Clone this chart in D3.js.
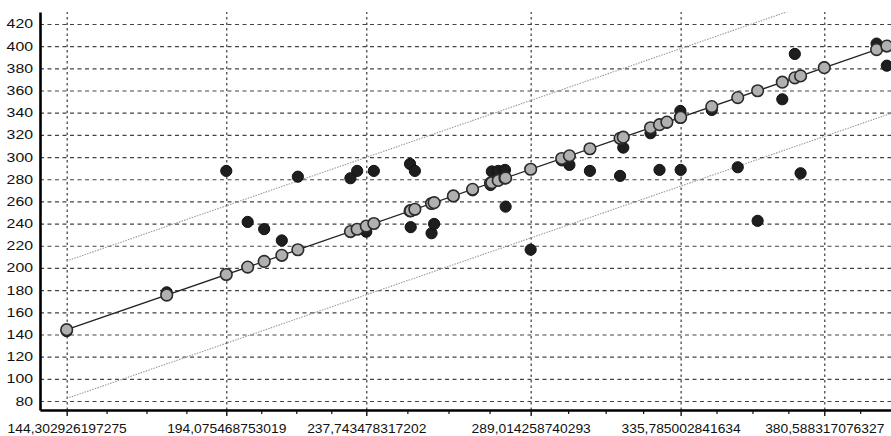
<!DOCTYPE html>
<html>
<head>
<meta charset="utf-8">
<script src="https://cdn.jsdelivr.net/npm/d3@7"></script>
<style>
  body{margin:0;background:#fff;}
  svg{display:block;}
  text{font-family:"Liberation Sans",Arial,sans-serif;fill:#111;}
</style>
</head>
<body>
<div id="chart"></div>
<script>
// predicted value (x) and observed value for each case
const predicted=[144.3,175.5,194.08,200.75,205.9,211.4,216.4,232.8,234.9,237.74,240.1,
  251.4,251.6,252.9,258.1,258.9,264.9,270.9,276.5,276.9,278.9,281.0,281.2,289.01,
  298.7,301.1,307.5,316.9,317.9,326.4,329.2,331.5,335.7,335.8,345.5,353.6,359.8,
  367.5,371.4,373.2,380.59,396.9,400.1];
const observed=[143,178,287.5,241.5,235,224.8,282.3,280.9,287.5,232.7,287.5,
  293.8,236.8,287.5,231.3,239.7,265,270,274.8,287,287.5,288.4,255.3,216.5,
  297,292.9,287.5,283,308.5,321.5,288.4,331,341.6,288.4,342.5,290.8,242.5,
  352.1,393,285.4,381,402.3,382.4];

const xTickLabels=["144,302926197275","194,075468753019","237,743478317202",
  "289,014258740293","335,785002841634","380,588317076327"];
const yTickValues=[80,100,120,140,160,180,200,220,240,260,280,300,320,340,360,380,400,420];
const bandOffset=62;   // half width of the prediction band

const width=891, height=436;
const margin={top:12,right:0,bottom:26,left:40};
const innerW=width-margin.left-margin.right;
const innerH=height-margin.top-margin.bottom;

const xTicks=xTickLabels.map(s=>+s.replace(",","."));

const xScale=d3.scaleLinear().domain([135.98,401.4]).range([0,innerW]);
const yScale=d3.scaleLinear().domain([71.9,430.8]).range([innerH,0]);

const svg=d3.select("#chart").append("svg")
  .attr("width",width).attr("height",height);

svg.append("defs").append("clipPath").attr("id","plotClip")
  .append("rect").attr("width",innerW).attr("height",innerH);

const g=svg.append("g")
  .attr("transform","translate("+margin.left+","+margin.top+")");

// grid lines
g.append("g").attr("class","hgrid")
  .call(d3.axisLeft(yScale).tickValues(yTickValues).tickSize(-innerW).tickFormat(""))
  .call(s=>s.select(".domain").remove())
  .selectAll("line")
  .attr("stroke","#444").attr("stroke-width",1.2).attr("stroke-dasharray","4,3.5");

g.append("g").attr("class","vgrid")
  .call(d3.axisBottom(xScale).tickValues(xTicks).tickSize(-innerH).tickFormat(""))
  .attr("transform","translate(0,"+innerH+")")
  .call(s=>s.select(".domain").remove())
  .selectAll("line")
  .attr("stroke","#3c3c3c").attr("stroke-width",1.2).attr("stroke-dasharray","2.5,3");

const pts=predicted.map((p,i)=>({pred:p,obs:observed[i]}));
const xMin=d3.min(predicted), xEnd=xScale.domain()[1];

const plot=g.append("g").attr("clip-path","url(#plotClip)");

// prediction bands
[bandOffset,-bandOffset].forEach(off=>{
  plot.append("path")
    .datum([xMin,xEnd])
    .attr("fill","none")
    .attr("stroke","#9a9a9a")
    .attr("stroke-width",1.1)
    .attr("stroke-dasharray","1.5,1.2")
    .attr("d",d3.line().x(d=>xScale(d)).y(d=>yScale(d+off)));
});

// observed points
plot.append("g").selectAll("circle")
  .data(pts).enter().append("circle")
  .attr("cx",d=>xScale(d.pred))
  .attr("cy",d=>yScale(d.obs))
  .attr("r",5.6)
  .attr("fill","#1e1e1e")
  .attr("stroke","#111")
  .attr("stroke-width",1);

// fitted line
plot.append("path")
  .datum([xMin,xEnd])
  .attr("fill","none")
  .attr("stroke","#222")
  .attr("stroke-width",1.3)
  .attr("d",d3.line().x(d=>xScale(d)).y(d=>yScale(d)));

// fitted points
plot.append("g").selectAll("circle")
  .data(pts).enter().append("circle")
  .attr("cx",d=>xScale(d.pred))
  .attr("cy",d=>yScale(d.pred))
  .attr("r",5.8)
  .attr("fill","#b0b0b0")
  .attr("stroke","#2a2a2a")
  .attr("stroke-width",1.6);

// minor ticks on the x axis: quarters between labelled ticks
let minor=[];
for(let i=0;i<xTicks.length;i++){
  const next=i<xTicks.length-1?xTicks[i+1]:xTicks[i]+(xTicks[i]-xTicks[i-1]);
  const step=(next-xTicks[i])/4;
  for(let k=1;k<4;k++){
    const v=xTicks[i]+k*step;
    if(v<xEnd) minor.push(v);
  }
}

g.append("g")
  .attr("transform","translate(0,"+innerH+")")
  .call(d3.axisBottom(xScale).tickValues(minor).tickSize(4).tickFormat(""))
  .call(s=>s.select(".domain").remove())
  .selectAll("line").attr("stroke","#111").attr("stroke-width",1.2);

// x axis
const xAxis=g.append("g")
  .attr("transform","translate(0,"+innerH+")")
  .call(d3.axisBottom(xScale).tickValues(xTicks).tickSize(6).tickSizeOuter(0)
    .tickFormat((d,i)=>xTickLabels[i]));
xAxis.select(".domain").attr("stroke","#000").attr("stroke-width",2.6);
xAxis.selectAll("line").attr("stroke","#111").attr("stroke-width",1.4);
xAxis.selectAll("text")
  .attr("fill","#111").attr("font-size","13.5px").attr("dy","0.85em").attr("y",12)
  .attr("textLength",(d,i)=>7.45*xTickLabels[i].length)
  .attr("lengthAdjust","spacingAndGlyphs");

// y axis
const yAxis=g.append("g")
  .call(d3.axisLeft(yScale).tickValues(yTickValues).tickSize(0).tickPadding(7));
yAxis.select(".domain").attr("stroke","#000").attr("stroke-width",2.6);
yAxis.selectAll("text")
  .attr("fill","#111").attr("font-size","12.5px")
  .attr("textLength",d=>8.8*String(d).length)
  .attr("lengthAdjust","spacingAndGlyphs");
</script>
</body>
</html>
